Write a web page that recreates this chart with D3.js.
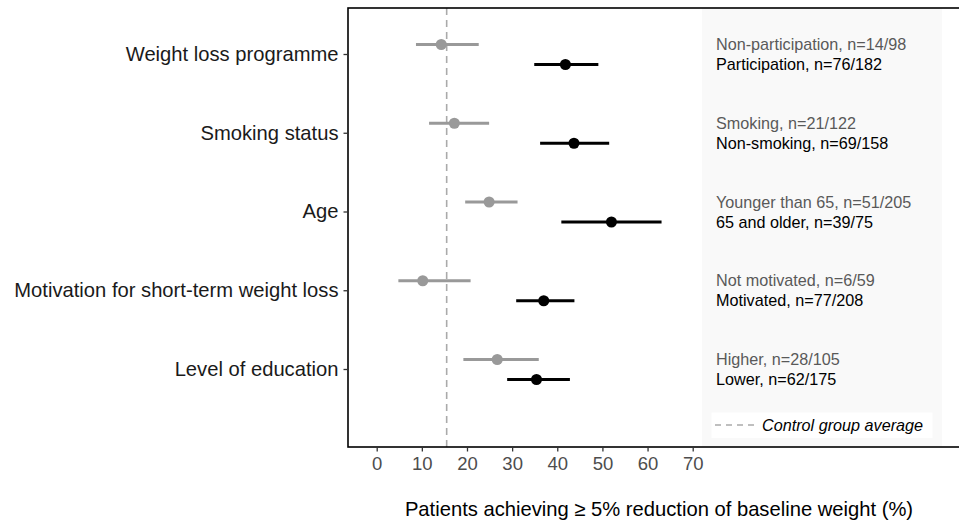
<!DOCTYPE html>
<html><head><meta charset="utf-8">
<script src="https://cdn.jsdelivr.net/npm/d3@7"></script>
<style>body{margin:0;background:#fff;} svg{display:block;font-family:"Liberation Sans",Arial,sans-serif;}</style>
</head><body>
<svg id="c" width="959" height="521"></svg>
<script>
const categories = ["Weight loss programme","Smoking status","Age","Motivation for short-term weight loss","Level of education"];
// grey (reference) subgroup
const greyLabels = ["Non-participation, n=14/98","Smoking, n=21/122","Younger than 65, n=51/205","Not motivated, n=6/59","Higher, n=28/105"];
const greyEst = [14.3,17.2,24.9,10.2,26.7];
const greyLo  = [8.7,11.6,19.6,4.8,19.2];
const greyHi  = [22.6,24.9,31.2,20.8,35.9];
// black subgroup
const blackLabels = ["Participation, n=76/182","Non-smoking, n=69/158","65 and older, n=39/75","Motivated, n=77/208","Lower, n=62/175"];
const blackEst = [41.8,43.7,52.0,37.0,35.4];
const blackLo  = [34.9,36.2,40.9,30.9,28.9];
const blackHi  = [49.1,51.5,63.1,43.8,42.8];
const controlAvg = 15.5;
const xTicks = [0,10,20,30,40,50,60,70];
const xTitle = "Patients achieving \u2265 5% reduction of baseline weight (%)";
const legendLabel = "Control group average";

const svg = d3.select("#c");
const L = 348, R = 972, T = 8, B = 447;
const x = d3.scaleLinear().domain([0,70]).range([376.7,692.7]);
const y = d3.scalePoint().domain(categories).range([54,369]);
const greyC = "#999999", blackC = "#000000";

// annotation background
svg.append("rect").attr("x",702).attr("y",T).attr("width",240).attr("height",B-T).attr("fill","#f9f9f9");

// control line
svg.append("line").attr("x1",x(controlAvg)).attr("x2",x(controlAvg)).attr("y1",T).attr("y2",B)
  .attr("stroke","#aaaaaa").attr("stroke-width",1.6).attr("stroke-dasharray","7,5");

function drawSeries(est,lo,hi,col,dy){
  const g = svg.append("g");
  g.selectAll("line").data(categories).join("line")
    .attr("x1",(d,i)=>x(lo[i])).attr("x2",(d,i)=>x(hi[i]))
    .attr("y1",d=>y(d)+dy).attr("y2",d=>y(d)+dy)
    .attr("stroke",col).attr("stroke-width",3.2);
  g.selectAll("circle").data(categories).join("circle")
    .attr("cx",(d,i)=>x(est[i])).attr("cy",d=>y(d)+dy).attr("r",5.5).attr("fill",col);
}
drawSeries(greyEst,greyLo,greyHi,greyC,-9.5);
drawSeries(blackEst,blackLo,blackHi,blackC,10.5);

// labels
svg.append("g").selectAll("text").data(categories).join("text")
  .attr("x",716).attr("y",d=>y(d)-9.5).attr("dy","0.35em")
  .attr("font-size",16.2).attr("fill","#595959").text((d,i)=>greyLabels[i]);
svg.append("g").selectAll("text").data(categories).join("text")
  .attr("x",716).attr("y",d=>y(d)+10.5).attr("dy","0.35em")
  .attr("font-size",16.2).attr("fill","#000").text((d,i)=>blackLabels[i]);

// legend
svg.append("rect").attr("x",711.5).attr("y",412.5).attr("width",221).attr("height",25.5).attr("fill","#fff");
svg.append("line").attr("x1",715).attr("x2",755).attr("y1",425).attr("y2",425)
  .attr("stroke","#aaaaaa").attr("stroke-width",1.6).attr("stroke-dasharray","6,5");
svg.append("text").attr("x",762).attr("y",425).attr("dy","0.35em").attr("font-size",16.2)
  .attr("font-style","italic").attr("fill","#000").text(legendLabel);

// panel border
svg.append("rect").attr("x",L).attr("y",T).attr("width",R-L).attr("height",B-T)
  .attr("fill","none").attr("stroke","#000").attr("stroke-width",1.6);

// y axis
const ya = svg.append("g").attr("transform",`translate(${L},0)`)
  .call(d3.axisLeft(y).tickSize(4.5).tickPadding(5).tickSizeOuter(0));
ya.select(".domain").remove();
ya.selectAll(".tick line").attr("stroke","#333").attr("stroke-width",1.3);
ya.selectAll(".tick text").attr("font-size",20.2).attr("fill","#1a1a1a").attr("font-family","Liberation Sans,Arial,sans-serif");

// x axis
const xa = svg.append("g").attr("transform",`translate(0,${B})`)
  .call(d3.axisBottom(x).tickValues(xTicks).tickSize(4.5).tickPadding(5).tickSizeOuter(0));
xa.select(".domain").remove();
xa.selectAll(".tick line").attr("stroke","#333").attr("stroke-width",1.3);
xa.selectAll(".tick text").attr("font-size",18.5).attr("fill","#4d4d4d").attr("font-family","Liberation Sans,Arial,sans-serif");

svg.append("text").attr("x",659).attr("y",509).attr("dy","0.35em").attr("text-anchor","middle")
  .attr("font-size",20.2).attr("fill","#000").text(xTitle);
</script>
</body></html>
